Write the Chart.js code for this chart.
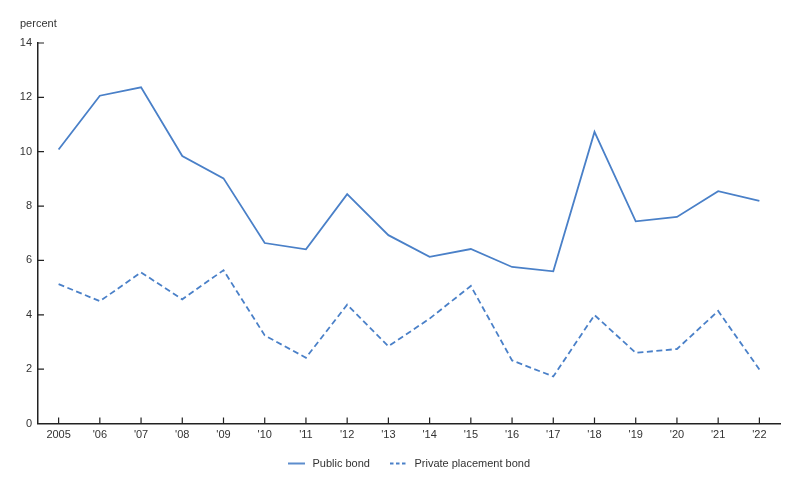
<!DOCTYPE html>
<html>
<head>
<meta charset="utf-8">
<script src="https://cdn.jsdelivr.net/npm/chart.js@4"></script>
<style>
  html, body { margin: 0; padding: 0; background: #fff; }
  #wrap { width: 800px; height: 486px; }
</style>
</head>
<body>
<div id="wrap"><canvas id="myChart"></canvas></div>
<script>
const years = ['2005', "'06", "'07", "'08", "'09", "'10", "'11", "'12", "'13",
               "'14", "'15", "'16", "'17", "'18", "'19", "'20", "'21", "'22"];
const publicBond = [10.08, 12.06, 12.37, 9.84, 9.02, 6.64, 6.41, 8.44, 6.93,
                    6.13, 6.42, 5.76, 5.60, 10.73, 7.44, 7.60, 8.55, 8.19];
const privateBond = [5.13, 4.50, 5.56, 4.57, 5.64, 3.24, 2.42, 4.37, 2.84,
                     3.86, 5.06, 2.32, 1.73, 3.99, 2.60, 2.74, 4.14, 1.99];
const yTicks = [0, 2, 4, 6, 8, 10, 12, 14];

const blue = '#4a80c8';
const ink = '#222';
const font = "Arial, 'Liberation Sans', sans-serif";

// small line samples for the legend
function sample(dash) {
  const c = document.createElement('canvas');
  c.width = 19; c.height = 4;
  const g = c.getContext('2d');
  g.strokeStyle = blue;
  g.lineWidth = 1.8;
  g.setLineDash(dash);
  g.beginPath();
  g.moveTo(0, 2);
  g.lineTo(17, 2);
  g.stroke();
  return c;
}
const solidSample = sample([]);
const dashSample = sample([3.5, 2.5]);

// inward tick marks, the "percent" label, legend centred under the plot
const extras = {
  id: 'extras',
  afterLayout(chart) {
    const lg = chart.legend;
    const shift = (chart.chartArea.left + chart.chartArea.right) / 2 - (lg.left + lg.right) / 2;
    lg.left += shift;
    lg.right += shift;
  },
  afterDraw(chart) {
    const ctx = chart.ctx;
    const x = chart.scales.x, y = chart.scales.y;
    ctx.save();
    ctx.strokeStyle = ink;
    ctx.lineWidth = 1.2;
    ctx.beginPath();
    x.ticks.forEach((t, i) => {
      const px = x.getPixelForTick(i);
      ctx.moveTo(px, y.bottom);
      ctx.lineTo(px, y.bottom - 6);
    });
    y.ticks.forEach((t, i) => {
      const py = y.getPixelForTick(i);
      ctx.moveTo(x.left, py);
      ctx.lineTo(x.left + 6, py);
    });
    ctx.stroke();
    ctx.fillStyle = '#333';
    ctx.font = '11px ' + font;
    ctx.textBaseline = 'middle';
    ctx.fillText('percent', 20, 24);
    ctx.restore();
  }
};

const data = {
  labels: years,
  datasets: [{
    label: 'Public bond',
    data: publicBond,
    borderColor: blue,
    backgroundColor: blue,
    borderWidth: 1.8,
    pointRadius: 0,
    pointStyle: solidSample,
    tension: 0
  }, {
    label: 'Private placement bond',
    data: privateBond,
    borderColor: blue,
    backgroundColor: blue,
    borderWidth: 1.8,
    borderDash: [6, 3.5],
    pointRadius: 0,
    pointStyle: dashSample,
    tension: 0
  }]
};

const config = {
  type: 'line',
  data: data,
  plugins: [extras],
  options: {
    responsive: true,
    maintainAspectRatio: false,
    animation: false,
    layout: { padding: { top: 43, right: 20, bottom: 7, left: 0 } },
    plugins: {
      legend: {
        position: 'bottom',
        labels: {
          usePointStyle: true,
          pointStyleWidth: 19,
          color: '#333',
          font: { family: font, size: 11 },
          padding: 20
        }
      },
      tooltip: { enabled: false }
    },
    scales: {
      x: {
        offset: true,
        grid: { display: false, drawTicks: false },
        border: { display: true, color: ink, width: 1.5 },
        ticks: { color: '#333', font: { family: font, size: 11 }, padding: 5, maxRotation: 0, autoSkip: false },
        afterFit(scale) { scale.height = 14.5; }
      },
      y: {
        min: 0,
        max: 14,
        afterBuildTicks(scale) { scale.ticks = yTicks.map(v => ({ value: v })); },
        grid: { display: false, drawTicks: false },
        border: { display: true, color: ink, width: 1.5 },
        ticks: { color: '#333', font: { family: font, size: 11 }, padding: 6 },
        afterFit(scale) { scale.width = 38; }
      }
    }
  }
};

const myChart = new Chart(document.getElementById('myChart'), config);
</script>
</body>
</html>
